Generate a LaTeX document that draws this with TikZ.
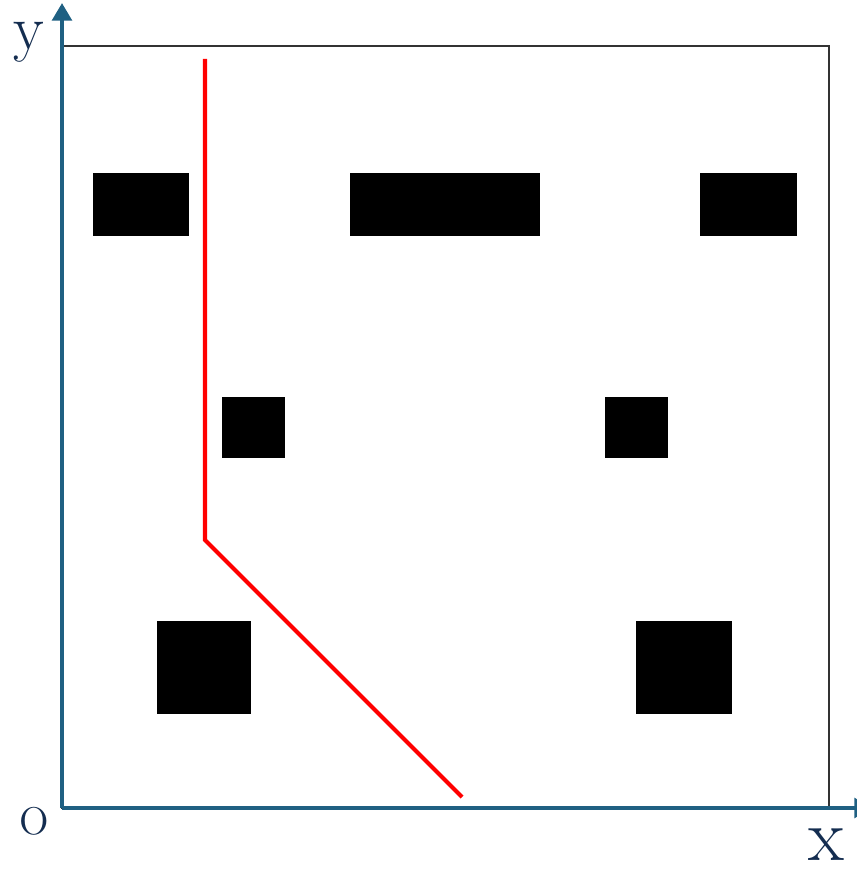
\documentclass[tikz,border=0pt]{standalone}
\usepackage{xcolor}
\definecolor{axisblue}{RGB}{31, 96, 130}
\definecolor{labelnavy}{RGB}{20, 45, 80}
\usepackage{tikz}
\usetikzlibrary{arrows.meta}

\tikzset{
    obstacle/.style={fill=black},
    axislabel/.style={text=labelnavy, inner sep=0pt},
    axisline/.style={-{Triangle[length=5pt, width=5.5pt]}, line width=1.2pt, axisblue}
}

\begin{document}
\begin{tikzpicture}[x=0.01cm, y=-0.01cm]
    \useasboundingbox (0, 0) rectangle (856, 877);

    % Region border
    \draw[line width=0.6pt, black!80] (62, 46) rectangle (829, 808);

    % Axes
    \coordinate (O) at (62, 808);
    \coordinate (Xend) at (872, 808);
    \coordinate (Yend) at (62, 3);
    \draw[axisline] (O) -- (Xend);
    \draw[axisline] (O) -- (Yend);
    \node[axislabel, font=\fontsize{18}{18}\selectfont] (ylab) at (29, 42) {y};
    \node[axislabel, font=\fontsize{11}{12}\selectfont] (olab) at (34, 821) {O};
    \node[axislabel, font=\fontsize{21}{21}\selectfont] (xlab) at (826, 845) {x};

    % Obstacles, top row
    \fill[obstacle] (93, 173) rectangle (189, 236);
    \fill[obstacle] (350, 173) rectangle (540, 236);
    \fill[obstacle] (700, 173) rectangle (797, 236);
    % middle row
    \fill[obstacle] (222, 397) rectangle (285, 458);
    \fill[obstacle] (605, 397) rectangle (668, 458);
    % bottom row
    \fill[obstacle] (157, 621) rectangle (251, 714);
    \fill[obstacle] (636, 621) rectangle (732, 714);

    % Path
    \coordinate (P0) at (205, 59);
    \coordinate (P1) at (205, 540);
    \coordinate (P2) at (462, 797);
    \draw[line width=1.2pt, red, line join=miter] (P0) -- (P1) -- (P2);
\end{tikzpicture}
\end{document}
